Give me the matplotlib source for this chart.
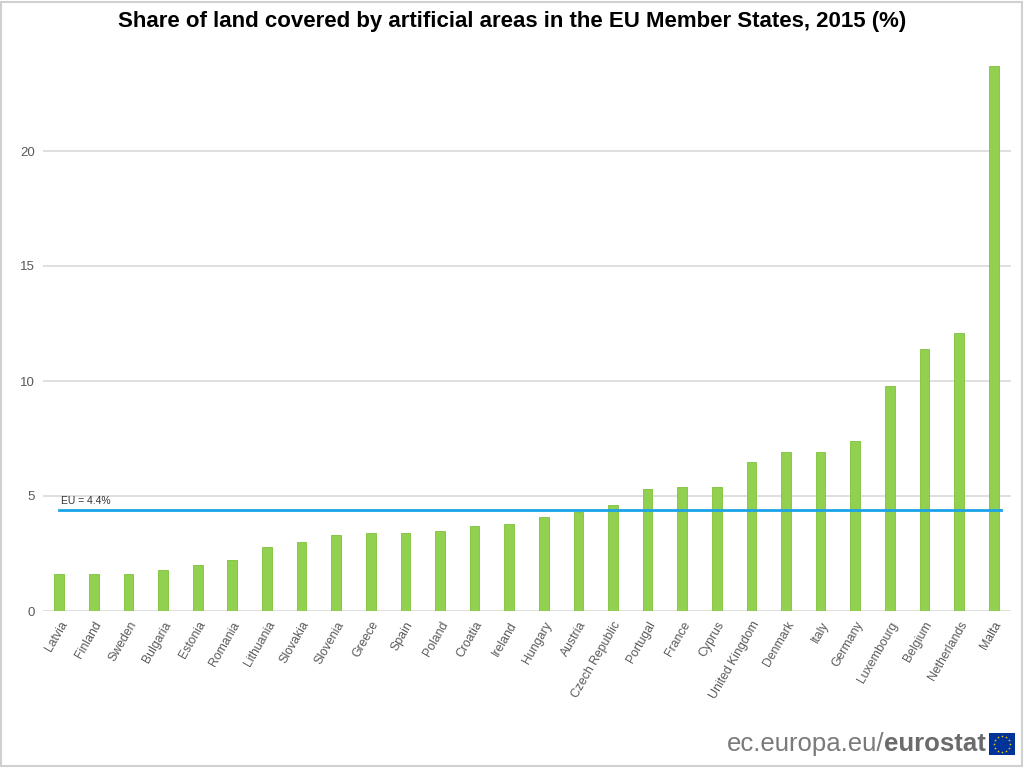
import matplotlib
matplotlib.use("Agg")
import matplotlib.pyplot as plt
from matplotlib.patches import Rectangle
import numpy as np

countries = ["Latvia", "Finland", "Sweden", "Bulgaria", "Estonia", "Romania",
             "Lithuania", "Slovakia", "Slovenia", "Greece", "Spain", "Poland",
             "Croatia", "Ireland", "Hungary", "Austria", "Czech Republic",
             "Portugal", "France", "Cyprus", "United Kingdom", "Denmark",
             "Italy", "Germany", "Luxembourg", "Belgium", "Netherlands", "Malta"]
values = [1.6, 1.6, 1.6, 1.8, 2.0, 2.2, 2.8, 3.0, 3.3, 3.4, 3.4, 3.5, 3.7,
          3.8, 4.1, 4.3, 4.6, 5.3, 5.4, 5.4, 6.5, 6.9, 6.9, 7.4, 9.8, 11.4,
          12.1, 23.7]
eu_value = 4.4
yticks = [0, 5, 10, 15, 20]
title = "Share of land covered by artificial areas in the EU Member States, 2015 (%)"

plt.rcParams['font.family'] = ['Liberation Sans', 'DejaVu Sans']

fig = plt.figure(figsize=(10.24, 7.68), dpi=100)
W, H = 1024, 768
ax = fig.add_axes([43 / W, (768 - 611) / H, (1011 - 43) / W, (611 - 59) / H])

x = np.arange(len(countries))
ax.bar(x, values, width=0.28, color='#92D050', edgecolor='#7CC13A',
       linewidth=0.6, zorder=3)
ax.set_xlim(-0.47, len(countries) - 0.5)
ax.set_ylim(0, 24)
ax.set_yticks(yticks)
ax.set_yticklabels([str(v) for v in yticks], color='#595959', fontsize=9.5)
ax.set_xticks(x)
ax.set_xticklabels(countries, rotation=60, ha='right', rotation_mode='anchor',
                   color='#595959', fontsize=8.8)
ax.tick_params(axis='both', length=0)
ax.tick_params(axis='y', pad=6)
ax.tick_params(axis='x', pad=6)
ax.grid(axis='y', color='#D9D9D9', linewidth=1.2, zorder=0)
for s in ax.spines.values():
    s.set_visible(False)

ax.plot([0, len(countries) - 0.8], [eu_value, eu_value], color='#1AA3E8',
        linewidth=2, zorder=4)
ax.text(0.05, eu_value + 0.15, "EU = 4.4%", fontsize=7.5, color='#333333',
        va='bottom', ha='left', zorder=5)

fig.text(0.5, 1 - 22 / H, title, ha='center', va='center', fontsize=16,
         fontweight='bold', color='black')

# figure border
fig.patches.append(Rectangle((0.001, 0.002), 0.997, 0.996, transform=fig.transFigure,
                             fill=False, edgecolor='#D0D0D0', linewidth=1.5))

# logo
renderer = fig.canvas.get_renderer()
lt = fig.text(0, 1 - 744 / H, "ec.europa.eu/", ha='left', va='center',
              fontsize=18.5, color='#7a7a7a')
bt = fig.text(0, 1 - 744 / H, "eurostat", ha='left', va='center',
              fontsize=18.5, color='#6b6b6b', fontweight='bold')
w1 = lt.get_window_extent(renderer).width
w2 = bt.get_window_extent(renderer).width
right = 986
start = right - (w1 + w2)
lt.set_x(start / W)
bt.set_x((start + w1) / W)

fax = fig.add_axes([989 / W, 1 - 755 / H, 26 / W, 22 / H])
fax.add_patch(Rectangle((0, 0), 1, 1, color='#003399'))
ang = np.linspace(0, 2 * np.pi, 12, endpoint=False)
fax.scatter(0.5 + 0.3 * np.cos(ang), 0.5 + 0.36 * np.sin(ang), marker='*',
            s=4, color='#FFCC00', linewidths=0)
fax.set_xlim(0, 1)
fax.set_ylim(0, 1)
fax.axis('off')

fig.savefig("out.png", dpi=100, facecolor='white')
